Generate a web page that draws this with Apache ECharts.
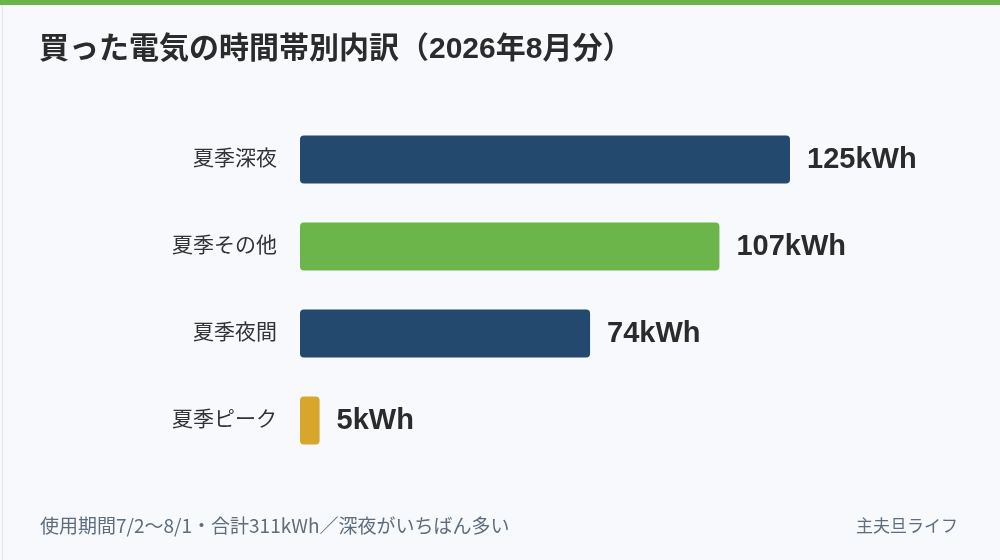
<!DOCTYPE html>
<html>
<head>
<meta charset="utf-8">
<script src="https://cdn.jsdelivr.net/npm/echarts@6/dist/echarts.min.js"></script>
<style>
html,body{margin:0;padding:0;background:#f7f9fc;}
#c{width:1000px;height:560px;}
</style>
</head>
<body>
<div id="c"></div>
<script>
const categories = ['夏季深夜', '夏季その他', '夏季夜間', '夏季ピーク'];
const values = [125, 107, 74, 5];
const barColors = ['#234a6e', '#6cb54b', '#234a6e', '#d6a72b'];
const titleText = '買った電気の時間帯別内訳（2026年8月分）';
const footerLeft = '使用期間7/2〜8/1・合計311kWh／深夜がいちばん多い';
const footerRight = '主夫旦ライフ';
const unit = 'kWh';

const FONT = '"Liberation Sans", "Noto Sans CJK JP", sans-serif';
const chart = echarts.init(document.getElementById('c'));
chart.setOption({
  backgroundColor: '#f7f9fc',
  animation: false,
  title: {
    text: titleText,
    left: 34,
    top: 30,
    textStyle: { fontFamily: FONT, fontSize: 30, fontWeight: 'bold', color: '#2b2b2b' }
  },
  graphic: [
    { type: 'rect', left: 0, top: 0, shape: { width: 999, height: 559 }, style: { fill: 'none', stroke: '#dfe4ea', lineWidth: 1 }, z: -1 },
    { type: 'rect', left: 0, top: 0, shape: { width: 1000, height: 5 }, style: { fill: '#6db34b' }, z: 10 },
    { type: 'text', left: 40, top: 516, style: { text: footerLeft, font: '19px "Noto Sans CJK JP", sans-serif', fill: '#5d6d7e' } },
    { type: 'text', right: 42, top: 517, style: { text: footerRight, font: '17px "Noto Sans CJK JP", sans-serif', fill: '#5d6d7e' } }
  ],
  grid: { left: 300, top: 116, height: 348, right: 112 },
  xAxis: { type: 'value', min: 0, max: 150, show: false },
  yAxis: {
    type: 'category',
    data: categories,
    inverse: true,
    axisLine: { show: false },
    axisTick: { show: false },
    axisLabel: { fontFamily: FONT, fontSize: 21, color: '#333', margin: 23 }
  },
  series: [{
    type: 'bar',
    data: values.map((v, i) => ({ value: v, itemStyle: { color: barColors[i] } })),
    barWidth: 48,
    itemStyle: { borderRadius: 4 },
    label: {
      show: true,
      position: 'right',
      distance: 17,
      formatter: p => p.value + unit,
      fontFamily: FONT,
      fontSize: 29,
      fontWeight: 'bold',
      color: '#2b2b2b'
    }
  }]
});
</script>
</body>
</html>
